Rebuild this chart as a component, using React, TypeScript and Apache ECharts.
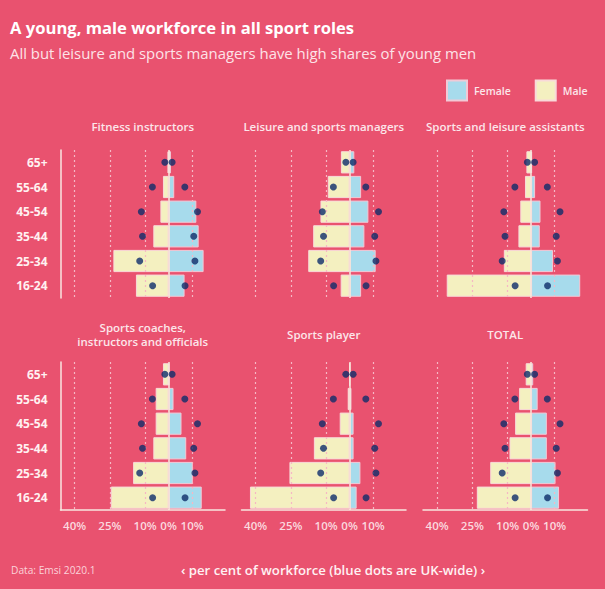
import React, { useEffect, useRef } from "react";
import * as echarts from "echarts";

const categories = ["65+", "55-64", "45-54", "35-44", "25-34", "16-24"];
const panelTitles = [
  "Fitness instructors",
  "Leisure and sports managers",
  "Sports and leisure assistants",
  "Sports coaches,\ninstructors and officials",
  "Sports player",
  "TOTAL",
];
const tickValues = [-40, -25, -10, 0, 10];
const gridValues = [-40, -25, -10, 10];

// male shares (positive numbers; drawn to the left), per panel, rows 65+ .. 16-24
const maleFitness = [0.4, 2.4, 3.5, 6.5, 23.5, 13.9];
const maleManagers = [3.7, 9.3, 12.4, 15.5, 17.6, 3.8];
const maleAssistants = [2.0, 2.6, 4.6, 5.4, 11.6, 35.9];
const maleCoaches = [2.4, 5.5, 5.5, 6.5, 15.1, 24.6];
const malePlayers = [0, 0.8, 4.2, 15.2, 25.6, 42.4];
const maleTotal = [2.3, 5.1, 6.8, 9.2, 17.4, 23.1];

// female shares
const femaleFitness = [1.0, 2.4, 11.8, 12.8, 14.9, 6.8];
const femaleManagers = [2.0, 4.9, 8.0, 6.3, 11.1, 4.9];
const femaleAssistants = [0.4, 1.7, 4.0, 3.7, 9.3, 20.9];
const femaleCoaches = [0.2, 2.1, 5.5, 7.5, 10.3, 14.1];
const femalePlayers = [0, 0.8, 1.7, 1.7, 4.6, 3.0];
const femaleTotal = [0.9, 2.8, 6.7, 6.7, 10.4, 11.9];

// UK-wide workforce (blue dots)
const ukMale = [1.6, 6.9, 11.6, 11.1, 12.3, 6.8];
const ukFemale = [1.5, 6.9, 12.3, 10.7, 11.2, 7.0];

const maleSets = [maleFitness, maleManagers, maleAssistants, maleCoaches, malePlayers, maleTotal];
const femaleSets = [femaleFitness, femaleManagers, femaleAssistants, femaleCoaches, femalePlayers, femaleTotal];

const BG = "#E9526F";
const FEMALE = "#A7DBEC";
const MALE = "#F4F0C0";
const DOT = "#0E2D6A";
const LIGHT = "#FCE6EA";
const FONT = "'Open Sans', 'Noto Sans', sans-serif";

export default function App() {
  const ref = useRef<HTMLDivElement>(null);

  useEffect(() => {
    document.body.style.margin = "0";
    if (!ref.current) return;
    const chart = echarts.init(ref.current, null, { renderer: "svg" });

    const lefts = [60.5, 241.5, 423];
    const tops = [150, 362];
    const grids: any[] = [];
    const xAxes: any[] = [];
    const yAxes: any[] = [];
    const series: any[] = [];
    const graphics: any[] = [];

    for (let i = 0; i < 6; i++) {
      const col = i % 3;
      const row = Math.floor(i / 3);
      const left = lefts[col];
      const top = tops[row];
      grids.push({ left, top, width: 164.5, height: 148 });
      xAxes.push({
        gridIndex: i,
        type: "value",
        min: -46,
        max: 24,
        axisLine: { show: row === 1, onZero: false, lineStyle: { color: "#F8E6E0", width: 1.5 } },
        axisTick: { show: false },
        splitLine: { show: false },
        axisLabel: {
          show: row === 1,
          customValues: tickValues,
          formatter: (v: number) => Math.abs(v) + "%",
          color: "#FBD9DF",
          fontFamily: FONT,
          fontWeight: 600,
          fontSize: 11.5,
          margin: 9,
        },
      });
      yAxes.push({
        gridIndex: i,
        type: "category",
        data: categories,
        inverse: true,
        axisLine: { show: col === 0, onZero: false, lineStyle: { color: "#F8E6E0", width: 1.5 } },
        axisTick: { show: false },
        splitLine: { show: false },
        axisLabel: {
          show: col === 0,
          color: "#FFF1F1",
          fontFamily: FONT,
          fontWeight: 700,
          fontSize: 12,
          margin: 13,
        },
      });

      series.push({
        name: "Male",
        type: "bar",
        xAxisIndex: i,
        yAxisIndex: i,
        data: maleSets[i].map((v) => -v),
        barWidth: "90%",
        barGap: "-100%",
        itemStyle: { color: MALE, borderColor: "#F9D9D9", borderWidth: 1 },
        z: 2,
        silent: true,
      });
      series.push({
        name: "Female",
        type: "bar",
        xAxisIndex: i,
        yAxisIndex: i,
        data: femaleSets[i],
        barWidth: "90%",
        barGap: "-100%",
        itemStyle: { color: FEMALE, borderColor: "#F2C9D6", borderWidth: 1 },
        z: 2,
        silent: true,
        markLine: {
          silent: true,
          symbol: "none",
          label: { show: false },
          data: [
            ...gridValues.map((v) => ({
              xAxis: v,
              lineStyle: { color: "#F6B7C4", type: [2, 3], width: 1.2 },
            })),
            { xAxis: 0, lineStyle: { color: "#F8EADC", type: "solid", width: 1.5 } },
          ],
        },
      });
      series.push({
        name: "UK male",
        type: "scatter",
        xAxisIndex: i,
        yAxisIndex: i,
        data: ukMale.map((v, k) => [-v, categories[k]]),
        symbolSize: 7,
        itemStyle: { color: DOT },
        z: 5,
        silent: true,
      });
      series.push({
        name: "UK female",
        type: "scatter",
        xAxisIndex: i,
        yAxisIndex: i,
        data: ukFemale.map((v, k) => [v, categories[k]]),
        symbolSize: 7,
        itemStyle: { color: DOT },
        z: 5,
        silent: true,
      });

      graphics.push({
        type: "text",
        x: left + 82.25,
        y: row === 0 ? 126.5 : 334,
        style: {
          text: panelTitles[i],
          textAlign: "center",
          textVerticalAlign: "middle",
          fill: LIGHT,
          font: `600 11.5px ${FONT}`,
          lineHeight: 14,
        },
      });
    }

    graphics.push(
      {
        type: "text",
        x: 10,
        y: 27.5,
        style: {
          text: "A young, male workforce in all sport roles",
          textVerticalAlign: "middle",
          fill: "#FFFFFF",
          font: `700 16.6px ${FONT}`,
        },
      },
      {
        type: "text",
        x: 10,
        y: 53,
        style: {
          text: "All but leisure and sports managers have high shares of young men",
          textVerticalAlign: "middle",
          fill: "#FDE3E8",
          font: `400 14.9px ${FONT}`,
        },
      },
      {
        type: "text",
        x: 11,
        y: 570,
        style: {
          text: "Data: Emsi 2020.1",
          textVerticalAlign: "middle",
          fill: "#FBD2DA",
          font: `400 10.2px ${FONT}`,
        },
      },
      {
        type: "text",
        x: 333,
        y: 569.5,
        style: {
          text: "‹ per cent of workforce (blue dots are UK-wide) ›",
          textAlign: "center",
          textVerticalAlign: "middle",
          fill: "#FFF1F3",
          font: `600 13.2px ${FONT}`,
        },
      }
    );

    chart.setOption({
      animation: false,
      backgroundColor: BG,
      legend: {
        data: ["Female", "Male"],
        left: 446,
        top: 79.5,
        padding: 0,
        itemWidth: 20,
        itemHeight: 20,
        itemGap: 24,
        icon: "rect",
        selectedMode: false,
        textStyle: { color: LIGHT, fontFamily: FONT, fontWeight: 600, fontSize: 10.5, padding: [0, 0, 0, 2] },
      },
      grid: grids,
      xAxis: xAxes,
      yAxis: yAxes,
      series,
      graphic: graphics,
    });

    return () => chart.dispose();
  }, []);

  return <div ref={ref} style={{ width: 605, height: 589 }} />;
}
